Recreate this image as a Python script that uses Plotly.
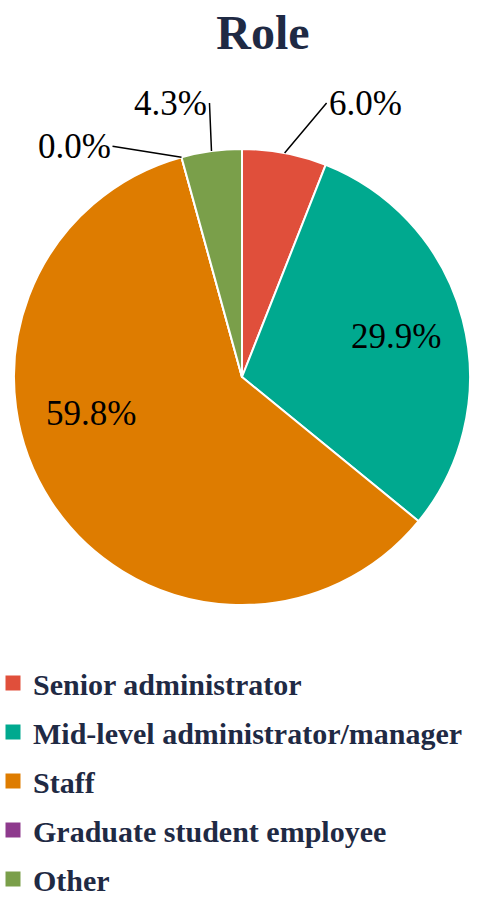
import math
import plotly.graph_objects as go

title = "Role"
categories = ["Senior administrator", "Mid-level administrator/manager", "Staff",
              "Graduate student employee", "Other"]
counts = [7, 35, 70, 0, 5]
colors = ["#E04F3B", "#00A98F", "#DE7C00", "#8E3A8D", "#7A9F4A"]

W, H = 491, 902
navy = "#1F2A44"
SERIF = "Liberation Serif"

# pie geometry (pixels)
CX, CY, R = 242, 377, 228

# label styling per slice
label_style = [
    dict(kind="out", ax=42, ay=-50, xanchor="left"),
    dict(kind="in", rf=0.70, shift=0),
    dict(kind="in", rf=0.68, shift=19.6),
    dict(kind="out", ax=-69, ay=-11, xanchor="right"),
    dict(kind="out", ax=-2, ay=-48, xanchor="right"),
]

fig = go.Figure()
fig.add_trace(go.Pie(
    labels=categories, values=counts, sort=False, direction="clockwise", rotation=0,
    marker=dict(colors=colors, line=dict(color="white", width=2)),
    textinfo="none", showlegend=False, hoverinfo="label+percent",
    domain=dict(x=[(CX - R) / W, (CX + R) / W], y=[(H - CY - R) / H, (H - CY + R) / H]),
))

for name, col in zip(categories, colors):
    fig.add_trace(go.Scatter(
        x=[None], y=[None], mode="markers", name=name, legendgroup=name,
        marker=dict(symbol="square", size=15, color=col),
    ))

total = sum(counts)
cum = 0
annotations = []
for v, st in zip(counts, label_style):
    mid = (cum + v / 2) / total * 360
    cum += v
    txt = f"{v / total * 100:.1f}%"
    if st["kind"] == "in":
        a = math.radians(mid + st["shift"])
        px = CX + st["rf"] * R * math.sin(a)
        py = CY - st["rf"] * R * math.cos(a)
        annotations.append(dict(text=txt, x=px / W, y=1 - py / H, xref="paper", yref="paper",
                                showarrow=False, xanchor="center", yanchor="middle",
                                font=dict(family=SERIF, size=35, color="black")))
    else:
        a = math.radians(mid)
        px = CX + R * math.sin(a)
        py = CY - R * math.cos(a)
        annotations.append(dict(text=txt, x=px / W, y=1 - py / H, xref="paper", yref="paper",
                                showarrow=True, ax=st["ax"], ay=st["ay"], xanchor=st["xanchor"],
                                yanchor="middle", arrowhead=0, arrowwidth=1.5,
                                arrowcolor="black", standoff=0,
                                font=dict(family=SERIF, size=35, color="black")))

fig.update_layout(
    width=W, height=H,
    margin=dict(l=0, r=0, t=0, b=0, autoexpand=False),
    paper_bgcolor="white", plot_bgcolor="white",
    font=dict(family=SERIF, color=navy),
    title=dict(text="<b>" + title + "</b>", x=263 / W, xanchor="center", y=1 - 32 / H,
               yanchor="middle", font=dict(family=SERIF, size=48, color=navy)),
    xaxis=dict(visible=False), yaxis=dict(visible=False),
    annotations=annotations,
    legend=dict(x=-7 / W, xanchor="left", y=(H - 657) / H, yanchor="top",
                traceorder="grouped", tracegroupgap=7,
                font=dict(family=SERIF, size=30, color=navy, weight="bold"),
                bgcolor="rgba(0,0,0,0)"),
)
fig.write_html("out.html", config={"displayModeBar": False},
               post_script="document.body.style.margin='0';")
